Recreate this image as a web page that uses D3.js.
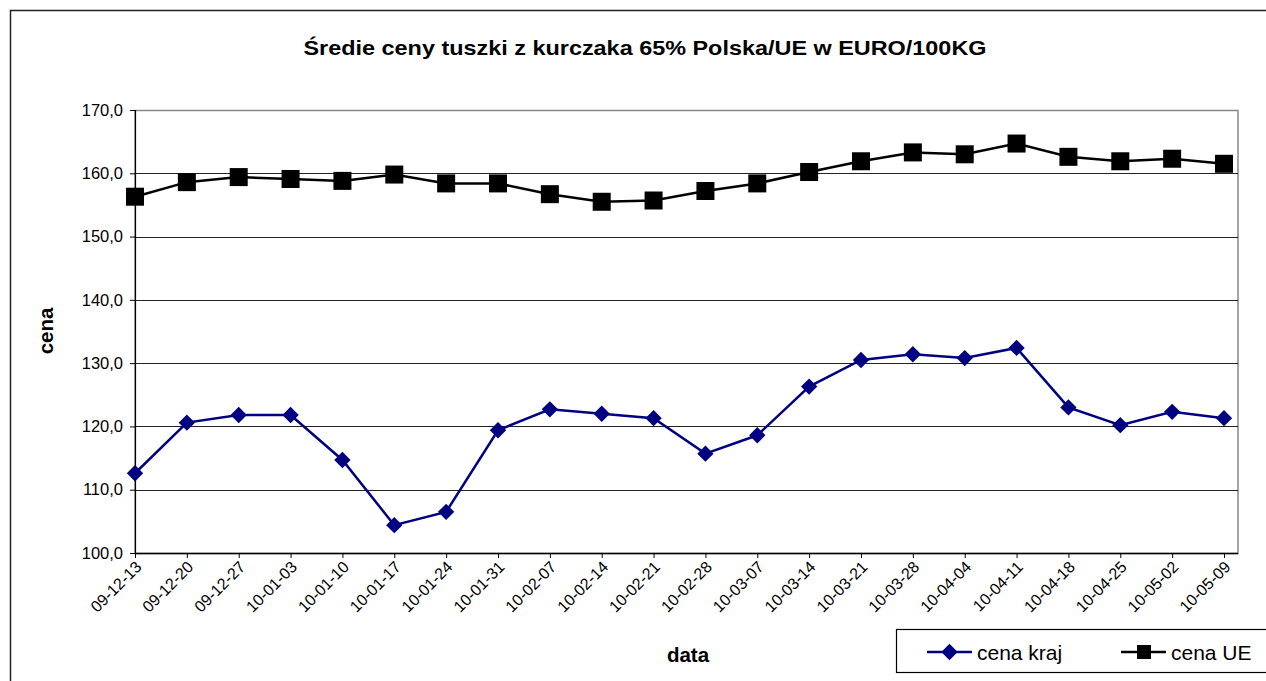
<!DOCTYPE html>
<html>
<head>
  <meta charset="utf-8">
  <title>Średie ceny tuszki z kurczaka</title>
  <script type="text/javascript" src="https://d3js.org/d3.v7.min.js"></script>
  <style>
    body { margin: 0; background: #fff; }
    text { font-family: Arial, "Liberation Sans", sans-serif; }
  </style>
</head>
<body>
  <div id="container"></div>
  <script type="text/javascript">
    var dates = ['09-12-13', '09-12-20', '09-12-27', '10-01-03', '10-01-10', '10-01-17', '10-01-24',
      '10-01-31', '10-02-07', '10-02-14', '10-02-21', '10-02-28', '10-03-07', '10-03-14', '10-03-21',
      '10-03-28', '10-04-04', '10-04-11', '10-04-18', '10-04-25', '10-05-02', '10-05-09'];
    var cenaKraj = [112.6, 120.6, 121.8, 121.8, 114.7, 104.4, 106.5, 119.4, 122.7, 122.0, 121.3,
      115.7, 118.6, 126.3, 130.5, 131.4, 130.8, 132.4, 123.0, 120.2, 122.3, 121.3];
    var cenaUE = [156.3, 158.6, 159.4, 159.1, 158.8, 159.8, 158.4, 158.4, 156.7, 155.5, 155.7,
      157.2, 158.4, 160.2, 161.9, 163.3, 163.0, 164.7, 162.6, 161.9, 162.3, 161.5];
    var yTicks = [100, 110, 120, 130, 140, 150, 160, 170];
    var seriesNames = ['cena kraj', 'cena UE'];

    function drawGraph() {
      var width = 1266, height = 681;
      var left = 135, right = 1238, top = 110, bottom = 553;

      var svg = d3.select('#container').append('svg')
        .attr('width', width).attr('height', height);

      // outer chart frame (right edge is cut off in the picture)
      svg.append('path')
        .attr('d', `M10.5,${height}V10.5H${width + 5}`)
        .attr('fill', 'none').attr('stroke', '#222').attr('stroke-width', 1.5);

      var x = d3.scalePoint().domain(dates).range([left, 1224]);
      var y = d3.scaleLinear().domain([100, 170]).range([bottom, top]);

      // plot area border
      svg.append('rect')
        .attr('x', left).attr('y', top + 0.5)
        .attr('width', right - left).attr('height', bottom - top)
        .attr('fill', 'none').attr('stroke', '#888').attr('stroke-width', 1.5);

      // gridlines
      svg.append('g').selectAll('line').data(yTicks.slice(1)).enter().append('line')
        .attr('x1', left).attr('x2', right)
        .attr('y1', d => Math.round(y(d)) + 0.5).attr('y2', d => Math.round(y(d)) + 0.5)
        .attr('stroke', d => d == 170 ? '#888' : '#222').attr('stroke-width', 1.2);

      // y axis
      var yAxis = svg.append('g').attr('transform', `translate(${left},0)`)
        .call(d3.axisLeft(y).tickValues(yTicks).tickSize(5).tickPadding(7)
          .tickFormat(d => d3.format('.1f')(d).replace('.', ',')));
      yAxis.select('.domain').attr('stroke', '#000').attr('stroke-width', 1.2);
      yAxis.selectAll('text').attr('font-size', 16.5).attr('fill', '#000');

      // x axis
      var xAxis = svg.append('g').attr('transform', `translate(0,${bottom})`)
        .call(d3.axisBottom(x).tickSize(5).tickSizeOuter(0));
      xAxis.select('.domain').attr('d', `M${left},0.5H${right}`).attr('stroke', '#000').attr('stroke-width', 1.5);
      xAxis.selectAll('text')
        .attr('font-size', 16).attr('fill', '#000')
        .attr('text-anchor', 'end')
        .attr('dy', 0).attr('y', 0)
        .attr('transform', 'translate(7,15) rotate(-45)');

      var line = d3.line().x((d, i) => x(dates[i])).y(d => y(d));

      // cena UE
      svg.append('path').datum(cenaUE)
        .attr('d', line).attr('fill', 'none')
        .attr('stroke', '#000').attr('stroke-width', 2.5);
      svg.append('g').selectAll('rect').data(cenaUE).enter().append('rect')
        .attr('x', (d, i) => x(dates[i]) - 9).attr('y', d => y(d) - 9)
        .attr('width', 18).attr('height', 18).attr('fill', '#000');

      // cena kraj
      var diamond = d3.symbol().type(d3.symbolDiamond2).size(170);
      svg.append('path').datum(cenaKraj)
        .attr('d', line).attr('fill', 'none')
        .attr('stroke', '#000080').attr('stroke-width', 2.5);
      svg.append('g').selectAll('path').data(cenaKraj).enter().append('path')
        .attr('d', diamond)
        .attr('transform', (d, i) => `translate(${x(dates[i])},${y(d)})`)
        .attr('fill', '#000080');

      // titles
      svg.append('text').attr('x', 645).attr('y', 55)
        .attr('text-anchor', 'middle').attr('font-weight', 'bold').attr('font-size', 21)
        .attr('textLength', 683).attr('lengthAdjust', 'spacingAndGlyphs')
        .text('Średie ceny tuszki z kurczaka 65% Polska/UE w EURO/100KG');
      svg.append('text').attr('transform', 'translate(53,331) rotate(-90)')
        .attr('text-anchor', 'middle').attr('font-weight', 'bold').attr('font-size', 20.5)
        .text('cena');
      svg.append('text').attr('x', 688).attr('y', 662)
        .attr('text-anchor', 'middle').attr('font-weight', 'bold').attr('font-size', 20.5)
        .text('data');

      // legend
      var lg = svg.append('g');
      lg.append('rect').attr('x', 896.5).attr('y', 629.5).attr('width', 400).attr('height', 43)
        .attr('fill', '#fff').attr('stroke', '#000').attr('stroke-width', 1.2);
      var items = [{name: seriesNames[0], color: '#000080', x0: 927, kind: 'diamond'},
                   {name: seriesNames[1], color: '#000', x0: 1121, kind: 'square'}];
      items.forEach(function (it) {
        lg.append('line').attr('x1', it.x0).attr('x2', it.x0 + 45)
          .attr('y1', 652).attr('y2', 652).attr('stroke', it.color).attr('stroke-width', 2.5);
        if (it.kind == 'diamond') {
          lg.append('path').attr('d', diamond).attr('transform', `translate(${it.x0 + 22.5},652)`)
            .attr('fill', it.color);
        } else {
          lg.append('rect').attr('x', it.x0 + 16).attr('y', 645).attr('width', 14).attr('height', 14)
            .attr('fill', it.color);
        }
        lg.append('text').attr('x', it.x0 + 50).attr('y', 660).attr('font-size', 21)
          .text(it.name);
      });
    }

    drawGraph();
  </script>
</body>
</html>
